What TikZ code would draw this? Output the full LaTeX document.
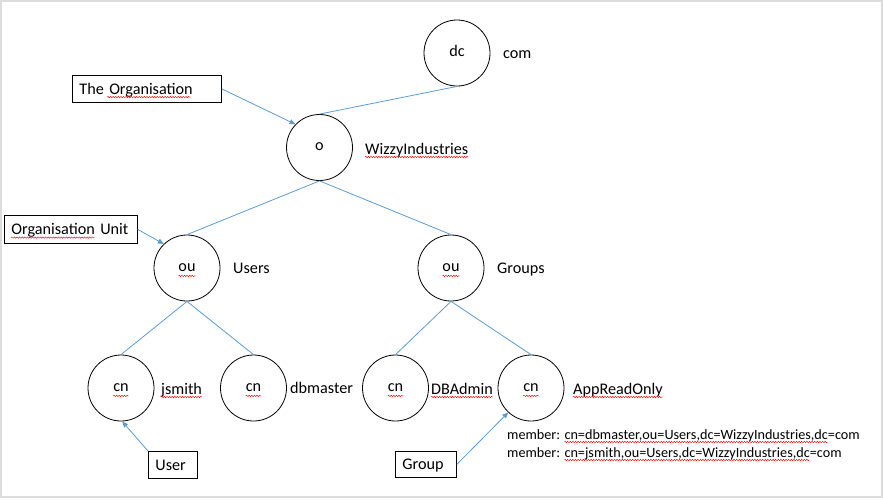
\documentclass[tikz,border=0pt]{standalone}
\usepackage{fontspec}
\setmainfont{Carlito}
\usetikzlibrary{arrows.meta,decorations.pathmorphing}
\definecolor{lineblue}{HTML}{5B9BD5}
\definecolor{framegray}{HTML}{DCDCDC}
\newcommand\lblfont{\fontsize{16.2}{19}\selectfont}
\newcommand\memfont{\fontsize{14.2}{18}\selectfont}
\newlength\wMem \newlength\wSqA \newlength\wSqB
\newlength\wThe \newlength\wOrg \newlength\wCn \newlength\wOu
\begin{document}
\settowidth\wMem{\memfont member: }%
\settowidth\wSqA{\memfont cn=dbmaster,ou=Users,dc=WizzyIndustries,dc}%
\settowidth\wSqB{\memfont cn=jsmith,ou=Users,dc=WizzyIndustries,dc}%
\settowidth\wThe{\lblfont The }%
\settowidth\wOrg{\lblfont Organisation}%
\settowidth\wCn{\lblfont cn}%
\settowidth\wOu{\lblfont ou}%
\begin{tikzpicture}[x=1pt,y=-1pt,
  every node/.style={font=\lblfont},
  ring/.style={draw, circle, minimum size=66pt, inner sep=0pt, line width=0.8pt, text height=0.6em, text depth=0pt},
  lbl/.style={anchor=base west, inner sep=0pt},
  small/.style={lbl, font=\memfont},
  tag/.style={draw, line width=0.8pt, anchor=north west, inner xsep=7pt, inner ysep=0pt, text height=10.4pt, text depth=0pt, align=left},
  link/.style={draw=lineblue, line width=0.8pt},
  pointer/.style={link, -{Triangle[length=6pt,width=5pt]}},
  wavy/.style={draw=red, line width=0.45pt, decorate, decoration={snake, amplitude=0.7pt, segment length=2.6pt}}
]
\useasboundingbox (0,0) rectangle (883,499);
\draw[framegray, line width=1.5pt] (1,1) rectangle (882,497);

% circles
\node[ring] (dc)  at (457,53)      {dc};
\node[ring] (o)   at (319.5,147.5) {o};
\node[ring] (ou1) at (187,268)     {ou};
\node[ring] (ou2) at (451,268)     {ou};
\node[ring] (cn1) at (121,388)     {cn};
\node[ring] (cn2) at (253.5,388)   {cn};
\node[ring] (cn3) at (395.5,388)   {cn};
\node[ring] (cn4) at (531,388)     {cn};

% side labels
\node[lbl] (lcom)    at (503,58)  {com};
\node[lbl] (lwizzy)  at (365,154) {WizzyIndustries};
\node[lbl] (lusers)  at (233,273) {Users};
\node[lbl] (lgroups) at (497,273) {Groups};
\node[lbl] (ljsmith) at (161,394) {jsmith};
\node[lbl] (ldbm)    at (290,393) {dbmaster};
\node[lbl] (ldba)    at (431,394) {DBAdmin};
\node[lbl] (lapp)    at (573,394) {AppReadOnly};
\node[small] (mem1) at (507,439) {member: cn=dbmaster,ou=Users,dc=WizzyIndustries,dc=com};
\node[small] (mem2) at (507,457) {member: cn=jsmith,ou=Users,dc=WizzyIndustries,dc=com};

% boxes
\node[tag, text width=135pt, minimum height=27pt] (theorg)  at (72,75)   {The Organisation};
\node[tag, text width=119pt, minimum height=28pt] (orgunit) at (4,215)   {Organisation Unit};
\node[tag, text width=35pt,  minimum height=27pt] (user)    at (148,451) {User};
\node[tag, text width=47pt,  minimum height=26pt] (group)   at (395,451) {Group};

% spell-check squiggles
\foreach \n in {lwizzy,ljsmith,ldba,lapp}
  \draw[wavy] ([yshift=-3pt]\n.base west) -- ([yshift=-3pt]\n.base east);
\foreach \n in {cn1,cn2,cn3,cn4}
  \draw[wavy] ([xshift=-0.5\wCn,yshift=-7.9pt]\n.center) -- ([xshift=0.5\wCn,yshift=-7.9pt]\n.center);
\foreach \n in {ou1,ou2}
  \draw[wavy] ([xshift=-0.5\wOu,yshift=-7.9pt]\n.center) -- ([xshift=0.5\wOu,yshift=-7.9pt]\n.center);
\draw[wavy] ([xshift=7pt+\wThe,yshift=-3pt]theorg.base west) -- ([xshift=7pt+\wThe+\wOrg,yshift=-3pt]theorg.base west);
\draw[wavy] ([xshift=7pt,yshift=-3pt]orgunit.base west) -- ([xshift=7pt+\wOrg,yshift=-3pt]orgunit.base west);
\draw[wavy] ([xshift=\wMem,yshift=-3pt]mem1.base west) -- ([xshift=\wMem+\wSqA,yshift=-3pt]mem1.base west);
\draw[wavy] ([xshift=\wMem,yshift=-3pt]mem2.base west) -- ([xshift=\wMem+\wSqB,yshift=-3pt]mem2.base west);

% tree links
\draw[link] (dc.south) -- (o.north);
\draw[link] (o.south) -- (ou1.north);
\draw[link] (o.south) -- (ou2.north);
\draw[link] (ou1.south) -- (cn1.north);
\draw[link] (ou1.south) -- (cn2.north);
\draw[link] (ou2.south) -- (cn3.north);
\draw[link] (ou2.south) -- (cn4.north);

% pointers
\draw[pointer] (theorg.east) -- (o.136);
\draw[pointer] (orgunit.east) -- (ou1.134);
\draw[pointer] (user.north west) -- (cn1.-88);
\draw[pointer] (group.east) -- (cn4.227);
\end{tikzpicture}
\end{document}
